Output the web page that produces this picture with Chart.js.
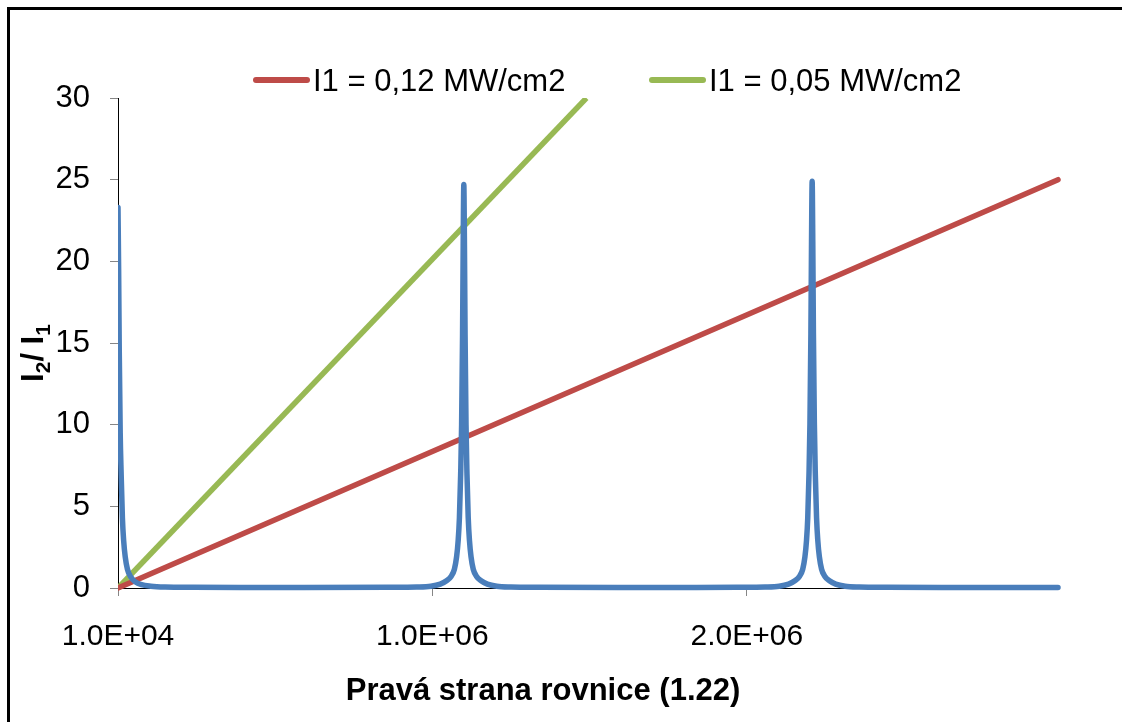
<!DOCTYPE html>
<html>
<head>
<meta charset="utf-8">
<script src="https://cdn.jsdelivr.net/npm/chart.js@4/dist/chart.umd.min.js"></script>
<style>
  html, body { margin: 0; padding: 0; background: #ffffff; }
  canvas { display: block; }
</style>
</head>
<body>
<canvas id="chart" width="1122" height="722"></canvas>
<script>
// Transmission I2/I1 of the resonator against the right-hand side of eq. (1.22)
const transX = [
  1.0e4, 1.2e4, 1.4e4, 1.7e4, 2.0e4, 2.4e4, 2.8e4, 3.3e4, 4.0e4, 5.0e4, 6.5e4, 8.5e4,
  1.15e5, 1.6e5, 2.5e5, 4.0e5, 6.0e5,
  8.70e5, 9.60e5, 1.005e6, 1.035e6, 1.055e6, 1.070e6, 1.080e6, 1.087e6, 1.092e6, 1.096e6,
  1.100e6, 1.103e6, 1.106e6, 1.108e6, 1.110e6, 1.112e6, 1.114e6, 1.117e6, 1.120e6,
  1.124e6, 1.128e6, 1.133e6, 1.140e6, 1.150e6, 1.165e6, 1.185e6, 1.215e6, 1.260e6,
  1.350e6, 1.60e6, 1.85e6,
  1.978e6, 2.068e6, 2.113e6, 2.143e6, 2.163e6, 2.178e6, 2.188e6, 2.195e6, 2.200e6,
  2.204e6, 2.208e6, 2.211e6, 2.214e6, 2.216e6, 2.218e6, 2.220e6, 2.222e6, 2.225e6,
  2.228e6, 2.232e6, 2.236e6, 2.241e6, 2.248e6, 2.258e6, 2.273e6, 2.293e6, 2.323e6,
  2.368e6, 2.458e6, 2.70e6, 3.0e6
];
const transY = [
  23.3, 19.5, 14.5, 9.5, 7.0, 4.3, 2.9, 1.9, 1.15, 0.7, 0.38, 0.2,
  0.11, 0.06, 0.04, 0.03, 0.03,
  0.04, 0.06, 0.11, 0.24, 0.44, 0.72, 1.15, 1.9, 2.9, 4.3,
  7.0, 10.0, 15.5, 21.0, 24.7, 21.0, 15.5, 10.0, 7.0,
  4.3, 2.9, 1.9, 1.15, 0.72, 0.44, 0.24, 0.11, 0.06,
  0.04, 0.03, 0.03,
  0.04, 0.06, 0.11, 0.24, 0.44, 0.72, 1.15, 1.9, 2.9,
  4.3, 7.0, 10.1, 15.6, 21.2, 24.9, 21.2, 15.6, 10.1,
  7.0, 4.3, 2.9, 1.9, 1.15, 0.72, 0.44, 0.24, 0.11,
  0.06, 0.04, 0.03, 0.03
];

// Straight lines for the two input intensities
const line012X = [1.0e4, 3.0e6];
const line012Y = [0, 25];
const line005X = [1.0e4, 1.5e6];
const line005Y = [0, 30];
const seriesLabels = ['I1 = 0,12 MW/cm2', 'I1 = 0,05 MW/cm2'];

// Axes
const xTickValues = [1.0e4, 1.01e6, 2.01e6];
const xTickLabels = ['1.0E+04', '1.0E+06', '2.0E+06'];
const xMin = 1.0e4, xMax = 3.0e6;
const yMin = 0, yMax = 30, yStep = 5;
const xTitle = 'Pravá strana rovnice (1.22)';
const yTitleParts = [['I', false], ['2', true], ['/ ', false], ['I', false], ['1', true]];

const FONT = "'Liberation Sans', Arial, sans-serif";

const toPoints = (xs, ys) => xs.map((x, i) => ({ x: x, y: ys[i] }));

// Frame, axis titles and legend drawn on top of the chart
const decorations = {
  id: 'decorations',
  afterDraw(chart) {
    const ctx = chart.ctx;
    const area = chart.chartArea;
    ctx.save();

    // outer frame
    ctx.strokeStyle = '#000000';
    ctx.lineWidth = 3;
    ctx.strokeRect(8.5, 8.5, 2000, 2000);

    // x axis title
    ctx.fillStyle = '#000000';
    ctx.font = 'bold 31px ' + FONT;
    ctx.textAlign = 'center';
    ctx.textBaseline = 'alphabetic';
    ctx.fillText(xTitle, 543, 700);

    // y axis title with subscripts, rotated
    const bigFont = 'bold 31px ' + FONT;
    const subFont = 'bold 21px ' + FONT;
    let total = 0;
    yTitleParts.forEach(([t, sub]) => { ctx.font = sub ? subFont : bigFont; total += ctx.measureText(t).width; });
    ctx.translate(43, (area.top + area.bottom) / 2 + 10);
    ctx.rotate(-Math.PI / 2);
    ctx.textAlign = 'left';
    let pos = -total / 2;
    yTitleParts.forEach(([t, sub]) => {
      ctx.font = sub ? subFont : bigFont;
      ctx.fillText(t, pos, sub ? 7 : 0);
      pos += ctx.measureText(t).width;
    });
    ctx.setTransform(1, 0, 0, 1, 0, 0);

    // legend
    const legendItems = [
      { ds: chart.data.datasets[1], x: 256 },
      { ds: chart.data.datasets[2], x: 652 }
    ];
    ctx.font = '31px ' + FONT;
    ctx.textAlign = 'left';
    legendItems.forEach(item => {
      ctx.strokeStyle = item.ds.borderColor;
      ctx.lineWidth = 6;
      ctx.lineCap = 'round';
      ctx.beginPath();
      ctx.moveTo(item.x, 80);
      ctx.lineTo(item.x + 51, 80);
      ctx.stroke();
      ctx.fillStyle = '#000000';
      ctx.fillText(item.ds.label, item.x + 57, 91);
    });
    ctx.restore();
  }
};

new Chart(document.getElementById('chart'), {
  type: 'line',
  data: {
    datasets: [
      {
        label: '',
        data: toPoints(transX, transY),
        borderColor: '#4A7EBB',
        borderWidth: 5.5,
        pointRadius: 0,
        cubicInterpolationMode: 'monotone',
        borderCapStyle: 'round',
        borderJoinStyle: 'round',
        clip: { left: 0, top: 0, right: 4, bottom: 4 }
      },
      {
        label: seriesLabels[0],
        data: toPoints(line012X, line012Y),
        borderColor: '#BE4B48',
        borderWidth: 5.5,
        pointRadius: 0,
        borderCapStyle: 'round',
        clip: { left: 0, top: 0, right: 4, bottom: 4 }
      },
      {
        label: seriesLabels[1],
        data: toPoints(line005X, line005Y),
        borderColor: '#98B954',
        borderWidth: 5.5,
        pointRadius: 0,
        borderCapStyle: 'butt',
        clip: { left: 0, top: 0, right: 4, bottom: 4 }
      }
    ]
  },
  options: {
    responsive: false,
    animation: false,
    layout: { padding: { top: 98, right: 64, left: 0, bottom: 0 } },
    plugins: { legend: { display: false }, tooltip: { enabled: false } },
    scales: {
      x: {
        type: 'linear',
        min: xMin,
        max: xMax,
        afterBuildTicks: s => { s.ticks = xTickValues.map(v => ({ value: v })); },
        afterFit: s => { s.height = 134; },
        ticks: {
          autoSkip: false,
          maxRotation: 0,
          padding: 23,
          color: '#000000',
          font: { family: FONT, size: 30 },
          callback: (v, i) => xTickLabels[i]
        },
        grid: { drawOnChartArea: false, drawTicks: true, tickLength: 8, tickColor: '#868686', tickWidth: 1 },
        border: { color: '#000000', width: 1 }
      },
      y: {
        min: yMin,
        max: yMax,
        afterFit: s => { s.width = 118; },
        ticks: {
          stepSize: yStep,
          padding: 20,
          color: '#000000',
          font: { family: FONT, size: 31 }
        },
        grid: { drawOnChartArea: false, drawTicks: true, tickLength: 8, tickColor: '#868686', tickWidth: 1 },
        border: { color: '#000000', width: 1 }
      }
    }
  },
  plugins: [decorations]
});
</script>
</body>
</html>
